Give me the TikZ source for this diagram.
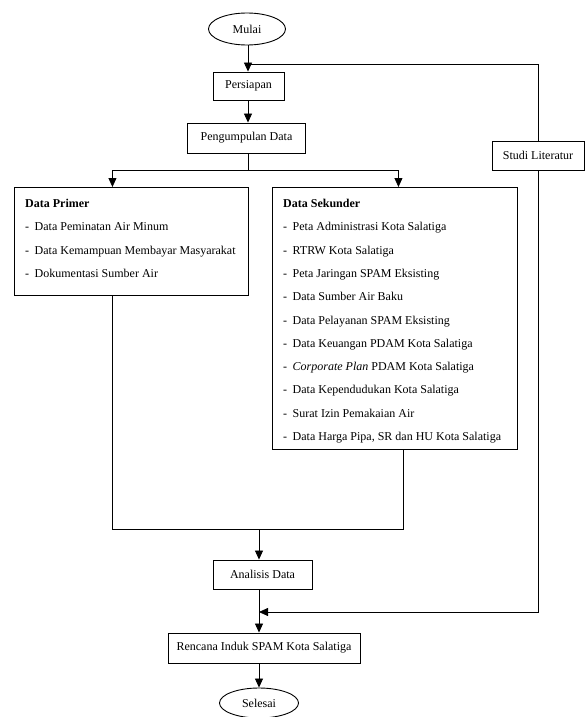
\documentclass[tikz,border=0pt]{standalone}
\usepackage{fontspec}
\setmainfont{Liberation Serif}
\usetikzlibrary{shapes}
\usetikzlibrary{arrows.meta}
\newcommand{\strip}{\makebox[9.5pt][l]{-}}

\begin{document}
\begin{tikzpicture}[x=1pt,y=1pt,
    kotak/.style={draw,line width=0.9pt,inner sep=0pt,font=\fontsize{12}{14}\selectfont},
    lonjong/.style={kotak,ellipse},
    daftar/.style={align=left,inner sep=0pt,anchor=north west,font=\fontsize{12}{23.3}\selectfont},
    garis/.style={line width=0.8pt},
    panah/.style={garis,-{Triangle[length=9pt,width=8pt]}}]
        \useasboundingbox (0,0) rectangle (585,-717);
        \node[lonjong,minimum width=77,minimum height=32] (mulai) at (247,-29) {Mulai};
        \node[kotak,minimum width=71,minimum height=28] (persiapan) at (248.5,-86) {Persiapan};
        \node[kotak,minimum width=118,minimum height=30] (pengumpulan) at (246.5,-138) {Pengumpulan Data};
        \node[kotak,minimum width=92,minimum height=29] (studi) at (538,-155.5) {Studi Literatur};
        \node[kotak,anchor=north west,minimum width=234,minimum height=108] (primer) at (14,-187) {};
        \node[kotak,anchor=north west,minimum width=245,minimum height=262] (sekunder) at (272,-187) {};
        \node[daftar] (primerisi) at (25,-199) {\textbf{Data Primer}\\
            \strip Data Peminatan Air Minum\\
            \strip Data Kemampuan Membayar Masyarakat\\
            \strip Dokumentasi Sumber Air};
        \node[daftar] (sekunderisi) at (283,-199) {\textbf{Data Sekunder}\\
            \strip Peta Administrasi Kota Salatiga\\
            \strip RTRW Kota Salatiga\\
            \strip Peta Jaringan SPAM Eksisting\\
            \strip Data Sumber Air Baku\\
            \strip Data Pelayanan SPAM Eksisting\\
            \strip Data Keuangan PDAM Kota Salatiga\\
            \strip \textit{Corporate Plan} PDAM Kota Salatiga\\
            \strip Data Kependudukan Kota Salatiga\\
            \strip Surat Izin Pemakaian Air\\
            \strip Data Harga Pipa, SR dan HU Kota Salatiga};
        \node[kotak,minimum width=99,minimum height=29] (analisis) at (262.5,-574.5) {Analisis Data};
        \node[kotak,minimum width=192,minimum height=30] (rencana) at (264,-648) {Rencana Induk SPAM Kota Salatiga};
        \node[lonjong,minimum width=79,minimum height=30] (selesai) at (259,-703) {Selesai};
        \coordinate (sambung) at (248,-64);
        \coordinate (cabang) at (248,-170);
        \coordinate (gabung) at (259,-529);
        \draw[panah] (sambung |- mulai.south) -- (sambung |- persiapan.north);
        \draw[garis] (studi.north) |- (sambung);
        \draw[panah] (sambung |- persiapan.south) -- (sambung |- pengumpulan.north);
        \draw[garis] (cabang |- pengumpulan.south) -- (cabang);
        \draw[panah] (cabang) -| ([xshift=-19]primer.north);
        \draw[panah] (cabang) -| ([xshift=3.5]sekunder.north);
        \draw[garis] ([xshift=-19]primer.south) |- (gabung);
        \draw[garis] ([xshift=8.5]sekunder.south) |- (gabung);
        \draw[panah] (gabung) -- (gabung |- analisis.north);
        \draw[panah] (gabung |- analisis.south) -- (gabung |- rencana.north);
        \draw[panah] (studi.south) |- (gabung |- 0,-612);
        \draw[panah] (gabung |- rencana.south) -- (gabung |- selesai.north);
\end{tikzpicture}
\end{document}
